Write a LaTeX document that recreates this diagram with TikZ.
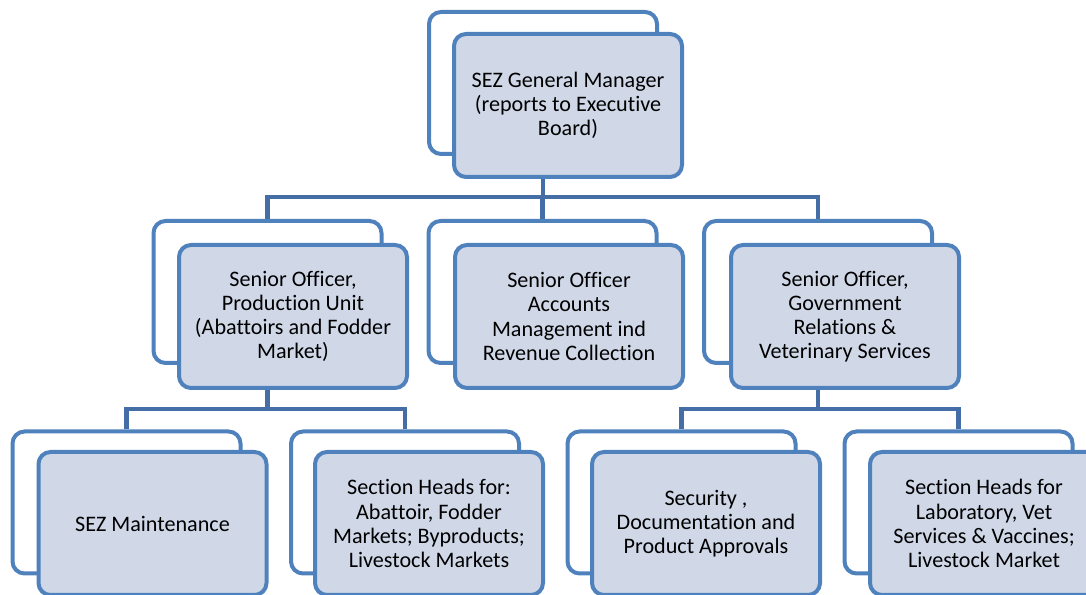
\documentclass[tikz,border=0pt]{standalone}
\usepackage{fontspec}
\setmainfont{Carlito}[Ligatures=NoCommon]
\usepackage{tikz}
\usetikzlibrary{positioning}
\definecolor{boxline}{RGB}{79,129,189}
\definecolor{boxfill}{RGB}{208,216,232}
\definecolor{connline}{RGB}{68,110,165}
\tikzset{
  backbox/.style={
    draw=boxline, fill=white, rectangle, rounded corners=0.24cm,
    line width=0.08cm, minimum width=4.56cm, minimum height=2.84cm,
    inner sep=0pt
  },
  frontbox/.style={
    draw=boxline, fill=boxfill, rectangle, rounded corners=0.24cm,
    line width=0.08cm, minimum width=4.56cm, minimum height=2.86cm,
    inner sep=0pt, align=center,
    font=\fontsize{12.6}{13.7}\selectfont
  },
  conn/.style={draw=connline, line width=0.09cm},
}
\begin{document}
\begin{tikzpicture}
        \clip (0,0) rectangle (21.72,11.90);
        \node[backbox] (gmb) at (10.86, 10.24) {};
        \node[frontbox] (gm) at (11.36, 9.79)
          {SEZ General Manager\\(reports to Executive\\Board)};
        \node[backbox] (pob) at (5.35, 6.06) {};
        \node[frontbox] (po) at (5.86, 5.57)
          {Senior Officer,\\Production Unit\\(Abattoirs and Fodder\\Market)};
        \node[backbox] (accb) at (10.85, 6.06) {};
        \node[frontbox] (acc) at (11.38, 5.57)
          {Senior Officer\\Accounts\\Management ind\\Revenue Collection};
        \node[backbox] (grb) at (16.36, 6.06) {};
        \node[frontbox] (gr) at (16.90, 5.57)
          {Senior Officer,\\Government\\Relations \&\\Veterinary Services};
        \node[backbox] (mtb) at (2.53, 1.85) {};
        \node[frontbox] (mt) at (3.05, 1.43) {SEZ Maintenance};
        \node[backbox] (shb) at (8.10, 1.85) {};
        \node[frontbox] (sh) at (8.58, 1.43)
          {Section Heads for:\\Abattoir, Fodder\\Markets; Byproducts;\\Livestock Markets};
        \node[backbox] (scb) at (13.63, 1.85) {};
        \node[frontbox] (sc) at (14.12, 1.43)
          {Security ,\\Documentation and\\Product Approvals};
        \node[backbox] (lbb) at (19.17, 1.85) {};
        \node[frontbox] (lb) at (19.68, 1.43)
          {Section Heads for\\Laboratory, Vet\\Services \& Vaccines;\\Livestock Market};
        \coordinate (bustop) at (0, 7.96);
        \coordinate (busmid) at (0, 3.72);
        \draw[conn] (gmb |- gm.south) -- (gmb |- bustop) -| (pob.north);
        \draw[conn] (gmb |- bustop) -| (grb.north);
        \draw[conn] (accb |- bustop) -- (accb.north);
        \draw[conn] (pob |- po.south) -- (pob |- busmid) -| (mtb.north);
        \draw[conn] (pob |- busmid) -| (shb.north);
        \draw[conn] (grb |- gr.south) -- (grb |- busmid) -| (scb.north);
        \draw[conn] (grb |- busmid) -| (lbb.north);
      \end{tikzpicture}
\end{document}
